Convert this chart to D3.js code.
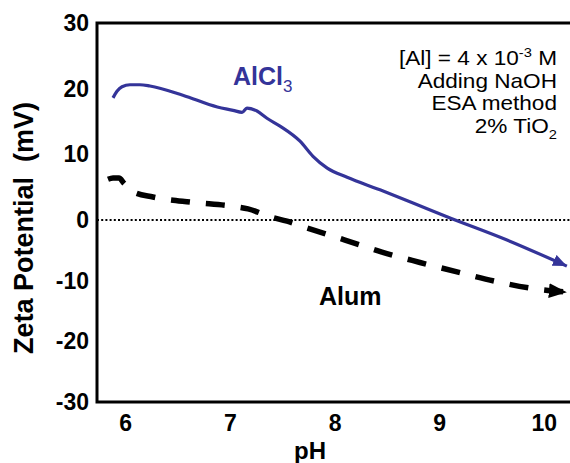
<!DOCTYPE html>
<html>
<head>
<meta charset="utf-8">
<script src="https://cdn.jsdelivr.net/npm/d3@7"></script>
<style>
  html, body { margin: 0; padding: 0; background: #fff; }
  svg { display: block; font-family: "Liberation Sans", Arial, Helvetica, sans-serif; }
</style>
</head>
<body>
<svg id="chart" width="570" height="463"></svg>
<script>
// Zeta potential of 2% TiO2 vs pH, titrated with NaOH (ESA method)
const alclPH   = [5.883, 5.921, 5.969, 6.045, 6.14, 6.236, 6.55, 6.88, 7.03, 7.116, 7.163, 7.259, 7.354, 7.479, 7.67, 7.794, 7.93, 8.12, 8.434, 8.75, 9.074, 9.648, 10.22];
const alclZeta = [18.6, 19.6, 20.3, 20.6, 20.6, 20.4, 19.0, 17.2, 16.7, 16.4, 17.05, 16.6, 15.5, 14.3, 12.0, 9.7, 7.9, 6.5, 4.6, 2.6, 0.5, -3.3, -7.6];

const alumPH   = [5.835, 5.883, 5.94, 5.988, 6.074, 6.265, 6.638, 7.02, 7.173, 7.383, 7.546, 7.737, 8.10, 8.453, 8.816, 9.18, 9.533, 9.896, 10.22];
const alumZeta = [6.2, 6.4, 6.4, 5.6, 4.3, 3.5, 2.7, 2.1, 1.7, 0.5, -0.2, -1.3, -3.3, -5.3, -7.0, -8.6, -10.1, -11.3, -11.9];

const xTicks = [6, 7, 8, 9, 10];
const yTicks = [30, 20, 10, 0, -10, -20, -30];
const notes  = ["[Al] = 4 x 10|-3| M", "Adding NaOH", "ESA method", "2% TiO|2|"];

const blue = "#343499";
const svg = d3.select("#chart");

const x = d3.scaleLinear().domain([5.73, 10.25]).range([97, 570]);
const y = d3.scaleLinear().domain([30, 0, -30]).range([23, 220, 402]);

// arrow markers
const defs = svg.append("defs");
function arrow(id, color, len, wid) {
  defs.append("marker")
    .attr("id", id)
    .attr("markerUnits", "userSpaceOnUse")
    .attr("viewBox", `0 0 ${len} ${wid}`)
    .attr("refX", len).attr("refY", wid / 2)
    .attr("markerWidth", len).attr("markerHeight", wid)
    .attr("orient", "auto")
    .append("path")
    .attr("d", `M0,0 L${len},${wid / 2} L0,${wid} Z`)
    .attr("fill", color);
}
arrow("arrBlue", blue, 14, 12);
arrow("arrBlack", "#000", 18, 15);

// zero reference line
svg.append("line")
  .attr("x1", x.range()[0]).attr("x2", x.range()[1])
  .attr("y1", y(0)).attr("y2", y(0))
  .attr("stroke", "#000").attr("stroke-width", 2)
  .attr("stroke-dasharray", "2,2.2");

const line = d3.line().x(d => x(d[0])).y(d => y(d[1])).curve(d3.curveMonotoneX);

// AlCl3 curve
svg.append("path")
  .datum(d3.zip(alclPH, alclZeta))
  .attr("d", line)
  .attr("fill", "none")
  .attr("stroke", blue)
  .attr("stroke-width", 3.2)
  .attr("marker-end", "url(#arrBlue)");

// Alum curve
svg.append("path")
  .datum(d3.zip(alumPH, alumZeta))
  .attr("d", line)
  .attr("fill", "none")
  .attr("stroke", "#000")
  .attr("stroke-width", 5.5)
  .attr("stroke-dasharray", "19,16")
  .attr("marker-end", "url(#arrBlack)");

// frame: left, top, bottom
const frame = svg.append("g").attr("stroke", "#000").attr("stroke-width", 3).attr("fill", "none");
frame.append("path").attr("d",
  `M${x.range()[1]},${y.range()[0]} H${x.range()[0]} V${y.range()[2]} H${x.range()[1]}`);

// axes (labels only)
const yAxis = svg.append("g")
  .attr("transform", `translate(${x.range()[0]},0)`)
  .call(d3.axisLeft(y).tickValues(yTicks).tickSize(0).tickPadding(8).tickFormat(d => String(d)));
const xAxis = svg.append("g")
  .attr("transform", `translate(0,${y.range()[2]})`)
  .call(d3.axisBottom(x).tickValues(xTicks).tickSize(0).tickPadding(13).tickFormat(d => String(d)));
[yAxis, xAxis].forEach(g => {
  g.select(".domain").remove();
  g.selectAll("text")
    .attr("font-family", "Liberation Sans, Arial, sans-serif")
    .attr("font-size", 23).attr("font-weight", "bold").attr("fill", "#000");
});

// axis titles
svg.append("text")
  .attr("x", 310).attr("y", 459)
  .attr("text-anchor", "middle")
  .attr("font-size", 24).attr("font-weight", "bold")
  .text("pH");
svg.append("text")
  .attr("transform", "translate(33,228) rotate(-90)")
  .attr("text-anchor", "middle")
  .attr("font-size", 27).attr("font-weight", "bold")
  .style("white-space", "pre")
  .text("Zeta Potential  (mV)");

// series labels
const al = svg.append("text")
  .attr("x", 233).attr("y", 85)
  .attr("font-size", 25).attr("font-weight", "bold").attr("fill", blue);
al.append("tspan").text("AlCl");
al.append("tspan").attr("font-size", 17).attr("font-weight", "normal").attr("dy", 7).text("3");

svg.append("text")
  .attr("x", 319).attr("y", 305)
  .attr("font-size", 25).attr("font-weight", "bold")
  .text("Alum");

// conditions note, right aligned, slightly widened type
const noteG = svg.append("g").attr("transform", "translate(557,0) scale(1.13,1)");
notes.forEach((s, i) => {
  const parts = s.split("|");
  const t = noteG.append("text")
    .attr("x", 0).attr("y", 65 + i * 22.7)
    .attr("text-anchor", "end")
    .attr("font-size", 20)
    .style("white-space", "pre");
  parts.forEach((p, j) => {
    if (j % 2 === 0) {
      t.append("tspan").attr("dy", j === 0 ? 0 : (i === 0 ? 8 : -6)).text(p);
    } else {
      t.append("tspan").attr("font-size", 13).attr("dy", i === 0 ? -8 : 6).text(p);
    }
  });
});
</script>
</body>
</html>
